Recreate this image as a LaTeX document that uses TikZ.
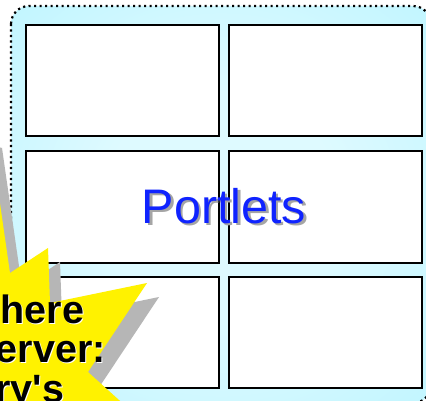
\documentclass[tikz,border=0pt]{standalone}
\usepackage{fontspec}
\setmainfont{Liberation Sans}
\newfontfamily\burstfont{Liberation Sans}
\usepackage{xcolor}
\usepackage{tikz}
\usetikzlibrary{calc}

\definecolor{paneCyan}{RGB}{165,238,252}
\definecolor{paneMid}{RGB}{190,245,255}
\definecolor{paneLight}{RGB}{222,250,255}
\definecolor{portletBlue}{RGB}{15,35,255}
\definecolor{burstShadow}{RGB}{182,182,182}
\definecolor{labelShadow}{RGB}{165,165,165}

\pgfdeclareradialshading{paneGlow}{\pgfpoint{0bp}{0bp}}{%
  color(0bp)=(paneLight); color(14bp)=(paneLight);
  color(38bp)=(paneMid); color(47bp)=(paneCyan); color(50bp)=(paneCyan)}

\tikzset{
  cell/.style={draw=black, line width=2pt, fill=white, inner sep=0pt,
    minimum width=193pt, minimum height=111pt},
  bigLabel/.style={inner sep=0pt, anchor=base, font=\fontsize{48.5}{48.5}\selectfont},
  burstText/.style={inner sep=0pt, anchor=base east, font=\burstfont\bfseries\fontsize{39.5}{39.5}\selectfont}
}

\begin{document}
\begin{tikzpicture}[x=1pt, y=-1pt]

\useasboundingbox (0,0) rectangle (426,401);
\clip (0,0) rectangle (426,401);
\fill[white] (0,0) rectangle (426,401);

% =====================
% Portal page (dotted container)
% =====================
\coordinate (PaneNW) at (11,6);
\coordinate (PaneSE) at (431,403);
\shade[shading=paneGlow, rounded corners=18pt]
  (PaneNW) rectangle (PaneSE);
\draw[line width=2.2pt, dash pattern=on 2.2pt off 3.3pt, rounded corners=18pt]
  (PaneNW) rectangle (PaneSE);

% =====================
% The six portlet windows
% =====================
\def\colA{122.3}
\def\colB{325.5}
\node[cell] (cellTL) at (\colA,80.5) {};
\node[cell] (cellTR) at (\colB,80.5) {};
\node[cell] (cellML) at (\colA,207) {};
\node[cell] (cellMR) at (\colB,207) {};
\node[cell] (cellBL) at (\colA,332) {};
\node[cell] (cellBR) at (\colB,332) {};

% Label across the middle row
\coordinate (LabelPos) at (224,223.3);
\node[bigLabel, text=labelShadow] (portletsShadow) at ($(LabelPos)+(2.5,2.5)$) {Portlets};
\node[bigLabel, text=portletBlue] (portlets) at (LabelPos) {Portlets};

% =====================
% Starburst (cut off at the left edge)
% =====================
\def\burstPath{(-10,134) -- (10,273) -- (48,248) -- (50,303) -- (147,283)
  -- (88,372) -- (150,428) -- (-60,460) -- (-60,120) -- cycle}
\fill[burstShadow, shift={(12,14)}] \burstPath;
\fill[yellow] \burstPath;

% Starburst text, white halo then black
\node[burstText, text=white] (hereHalo) at (85.5,324.5) {here};
\node[burstText, text=white] (serverHalo) at (107,363.9) {erver:};
\node[burstText, text=white] (storyHalo) at (65.5,403.2) {ry's};
\node[burstText] (here) at (84.5,323.3) {here};
\node[burstText] (server) at (106,362.7) {erver:};
\node[burstText] (story) at (64.5,402) {ry's};
\end{tikzpicture}
\end{document}
